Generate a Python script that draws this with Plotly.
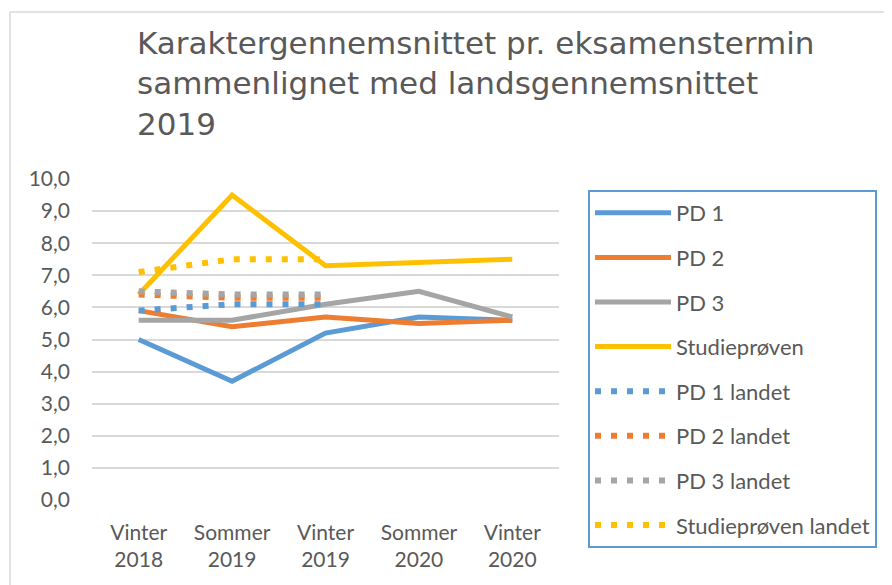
import plotly.graph_objects as go

# ----------------------------------------
# data
# ----------------------------------------
terms = ["Vinter<br>2018", "Sommer<br>2019", "Vinter<br>2019", "Sommer<br>2020", "Vinter<br>2020"]

pd1 = [5.0, 3.7, 5.2, 5.7, 5.6]
pd2 = [5.9, 5.4, 5.7, 5.5, 5.6]
pd3 = [5.6, 5.6, 6.1, 6.5, 5.7]
studie = [6.4, 9.5, 7.3, 7.4, 7.5]

# national averages only for the first three terms
pd1_landet = [5.9, 6.1, 6.1]
pd2_landet = [6.4, 6.3, 6.3]
pd3_landet = [6.5, 6.4, 6.4]
studie_landet = [7.1, 7.5, 7.5]

names = ["PD 1", "PD 2", "PD 3", "Studieprøven"]
colors = ["#5b9bd5", "#ed7d31", "#a5a5a5", "#ffc000"]

grey_text = "#595959"

# the page body has an 8px margin, so the figure is a bit smaller
# and everything is placed 8px up/left of where it shows in the window
OFF = 8
W, H = 892 - OFF, 585 - OFF
L, T = 92 - OFF, 179 - OFF
R = W - (559 - OFF)
B = H - (500 - OFF)

fig = go.Figure()

for i, (name, vals) in enumerate(zip(names, [pd1, pd2, pd3, studie])):
    fig.add_trace(go.Scatter(
        x=terms, y=vals, mode="lines", name=name,
        line=dict(color=colors[i], width=5),
        legendgroup=f"g{i}",
    ))

for i, (name, vals) in enumerate(zip(names, [pd1_landet, pd2_landet, pd3_landet, studie_landet])):
    fig.add_trace(go.Scatter(
        x=terms[:len(vals)], y=vals, mode="lines", name=f"{name} landet",
        line=dict(color=colors[i], width=6, dash="6px,10px"),
        legendgroup=f"h{i}",
    ))

pw = W - L - R
ph = H - T - B

def px_x(x):  # window pixel -> paper x
    return (x - OFF - L) / pw

def px_y(y):  # window pixel -> paper y
    return (H - B - (y - OFF)) / ph

# outer chart border (light grey frame)
fig.add_shape(type="rect", xref="paper", yref="paper",
              x0=px_x(10), x1=px_x(910), y0=px_y(610), y1=px_y(12),
              line=dict(color="#d9d9d9", width=1.5), layer="below")

fig.update_layout(
    width=W, height=H,
    margin=dict(l=L, r=R, t=T, b=B, autoexpand=False),
    paper_bgcolor="white", plot_bgcolor="white",
    separators=", ",
    title=dict(
        text="Karaktergennemsnittet pr. eksamenstermin<br>sammenlignet med landsgennemsnittet<br>2019",
        x=(137 - OFF) / W, xanchor="left", xref="container",
        y=1 - (54 - OFF) / H, yanchor="top", yref="container",
        font=dict(family="DejaVu Sans", size=31, color=grey_text),
    ),
    font=dict(family="Lato", size=21, color=grey_text),
    xaxis=dict(range=[-0.5, 4.5], showgrid=False, showline=False, ticks="",
               tickfont=dict(size=21), ticklabelstandoff=18),
    yaxis=dict(range=[0, 10], dtick=1, tickformat=".1f", showgrid=True,
               gridcolor="#d9d9d9", gridwidth=1.5, zeroline=False, ticks="",
               tickfont=dict(size=21), ticklabelstandoff=21),
    showlegend=True,
    legend=dict(
        x=px_x(588), xanchor="left",
        y=px_y(190), yanchor="top",
        maxheight=420,
        bordercolor="#5b9bd5", borderwidth=2,
        font=dict(size=22, color=grey_text),
        traceorder="grouped", tracegroupgap=13,
        itemwidth=76,
    ),
)

fig.write_html("out.html")
